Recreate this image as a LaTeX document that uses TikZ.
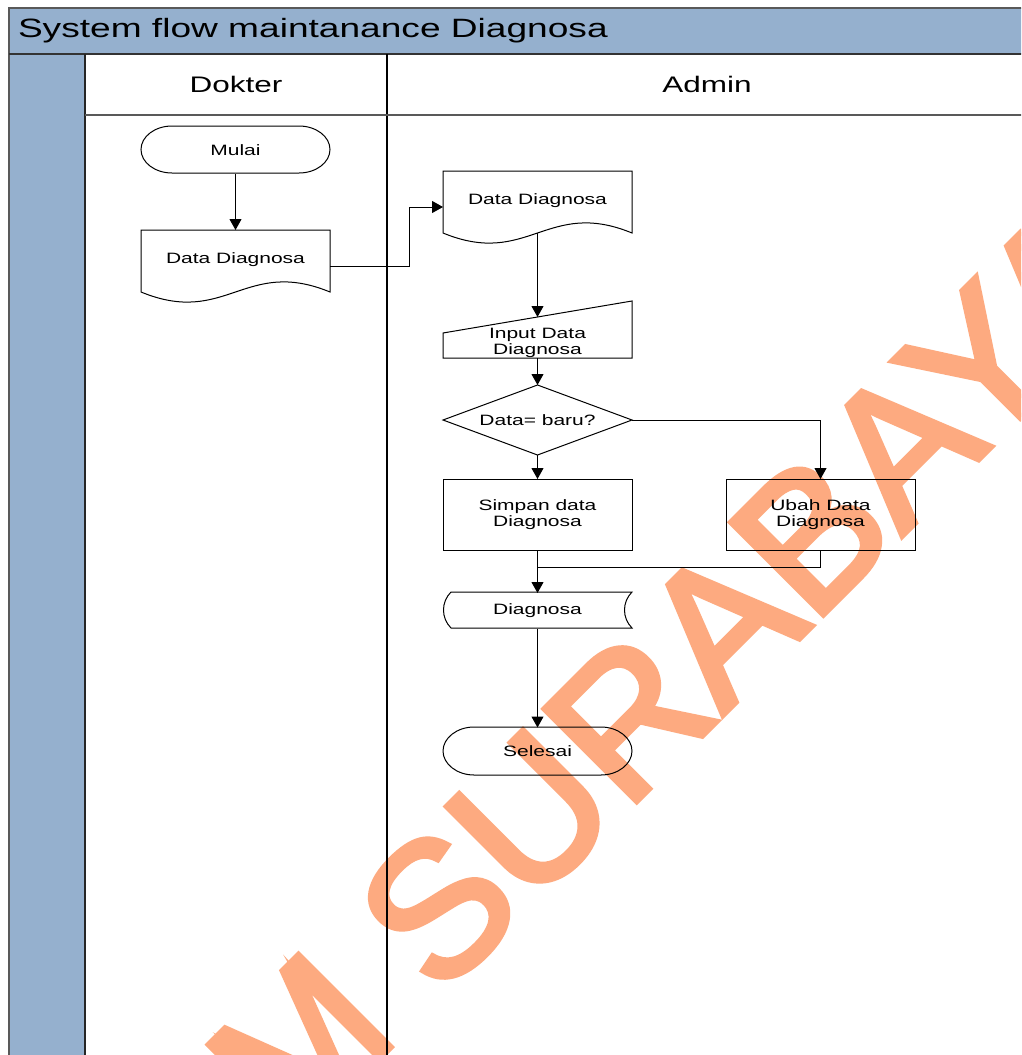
\documentclass[tikz,border=0pt]{standalone}
\usepackage{fontspec}
\setmainfont{Liberation Sans}
\newfontfamily\wfont[FakeStretch=1.4]{Liberation Sans}
\newfontfamily\wmfont[FakeBold=3]{Liberation Sans}
\usetikzlibrary{arrows.meta,calc,shapes.geometric}
\definecolor{laneblue}{RGB}{149,176,206}
\definecolor{wmark}{RGB}{253,170,128}
\newcommand{\termshape}[4]{%
 \draw[shp] ({#1+31},#2) -- ({#3-31},#2) .. controls ({#3-14},#2) and (#3,{(#2+#4)/2-13}) .. (#3,{(#2+#4)/2}) .. controls (#3,{(#2+#4)/2+13}) and ({#3-14},#4) .. ({#3-31},#4) -- ({#1+31},#4) .. controls ({#1+14},#4) and (#1,{(#2+#4)/2+13}) .. (#1,{(#2+#4)/2}) .. controls (#1,{(#2+#4)/2-13}) and ({#1+14},#2) .. cycle;}
\newcommand{\docshape}[4]{%
 \draw[shp] (#1,#2) -- (#3,#2) -- (#3,#4) .. controls ({#3-0.45*(#3-#1)},{#4-35}) and ({#1+0.45*(#3-#1)},{#4+35}) .. (#1,#4) -- cycle;}
\newcommand{\storeshape}[4]{%
 \draw[shp] ({#1+8},#2) -- (#3,#2) .. controls ({#3-10},{#2+10}) and ({#3-10},{#4-10}) .. (#3,#4) -- ({#1+8},#4) .. controls ({#1-2},{#4-10}) and ({#1-2},{#2+10}) .. cycle;}
\begin{document}
\begin{tikzpicture}[x=1pt,y=-1pt,
  every node/.style={inner sep=0pt, outer sep=0pt},
  box/.style={draw=none, minimum width=189pt, font=\wfont\fontsize{15}{16}\selectfont, align=center},
  shp/.style={draw=black, line width=1pt},
  arr/.style={draw=black, line width=1pt, -{Triangle[width=12pt,length=11pt]}},
  ln/.style={draw=black, line width=1pt},
  hdr/.style={font=\wfont\fontsize{22.5}{24}\selectfont},
]
\useasboundingbox (0,0) rectangle (1021,1055);
\clip (0,0) rectangle (1021,1055);
\fill[white] (0,0) rectangle (1021,1055);

% watermark
\node[rotate=45, anchor=base west, text=wmark, font=\wmfont\fontsize{190}{190}\selectfont] (wm) at (290,1148) {M SURABAYA};

% pool and lanes
\fill[laneblue] (9,8) rectangle (1030,54);
\fill[laneblue] (9,54) rectangle (85,1060);
\draw[line width=1.2pt, black!65] (1030,8) -- (9,8) -- (9,1060);
\draw[line width=2.2pt, black!80] (9,54) -- (1030,54);
\draw[line width=1.8pt, black!85] (85,54) -- (85,1060);
\draw[line width=1.5pt] (387,54) -- (387,1060);
\draw[line width=1.2pt, black!65] (85,115) -- (1030,115);

\node[anchor=west, font=\wfont\fontsize{26.5}{28}\selectfont] (title) at (18,31) {System flow maintanance Diagnosa};
\node[hdr] (dokter) at (236,84) {Dokter};
\node[hdr] (admin) at (707,84) {Admin};

% nodes
\node[box, minimum height=47pt] (mulai) at (235.5,150.5) {Mulai};
\termshape{141}{126}{330}{173}
\node[box, minimum height=72pt] (doc1) at (235.5,266) {\raisebox{16pt}{Data Diagnosa}};
\docshape{141}{230}{330}{292}
\node[box, minimum height=72pt] (doc2) at (537.5,207) {\raisebox{16pt}{Data Diagnosa}};
\docshape{443}{171}{632}{233}
\node[box, minimum height=30pt] (inp) at (537.5,343) {Input Data\\Diagnosa};
\draw[shp] (443,333) -- (632,301) -- (632,358) -- (443,358) -- cycle;
\node[box, shape=diamond, aspect=2.7, draw=black, line width=1pt, minimum height=70pt] (dec) at (537.5,420) {Data= baru?};
\node[box, draw=black, line width=1pt, minimum height=71pt] (simpan) at (537.5,514.5) {Simpan data\\Diagnosa};
\node[box, draw=black, line width=1pt, minimum height=71pt] (ubah) at (820.5,514.5) {Ubah Data\\Diagnosa};
\node[box, minimum height=36pt] (diag) at (537.5,611) {Diagnosa};
\storeshape{443}{592}{632}{628}
\node[box, minimum height=48pt] (selesai) at (537.5,751.5) {Selesai};
\termshape{443}{727}{632}{775}

% connectors
\draw[arr] (mulai) -- (doc1);
\draw[arr] (doc1.east) -- ++(79,0) |- (doc2.west);
\draw[arr] ([yshift=10pt]doc2.south) -- ([yshift=11pt]inp.north);
\draw[arr] (inp) -- (dec);
\draw[arr] (dec) -- (simpan);
\draw[arr] (dec.east) -| (ubah.north);
\draw[arr] (simpan) -- (diag);
\draw[ln] (ubah.south) |- ($(simpan.south)!0.4!(diag.north)$);
\draw[arr] (diag) -- (selesai);
\end{tikzpicture}
\end{document}
